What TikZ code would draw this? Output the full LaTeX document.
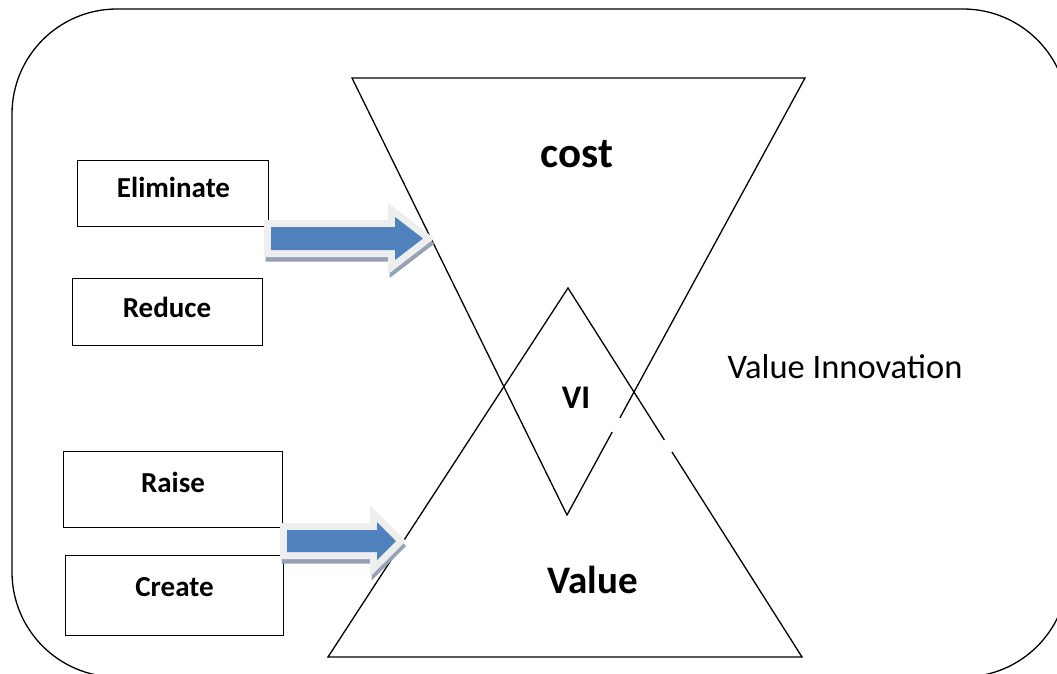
\documentclass[tikz,border=0pt]{standalone}
\usepackage{fontspec}
\setmainfont{Carlito}
\usetikzlibrary{calc}
\definecolor{arrblue}{HTML}{4F81BD}
\definecolor{arrrim}{HTML}{EEEEEE}
\definecolor{arrshadow}{HTML}{95A2B6}
\tikzset{
  frame/.style={draw=black, line width=1.3pt, rounded corners=105pt},
  tri/.style={draw=black, line width=1.3pt, line join=miter},
  boxnode/.style={draw=black, line width=1.4pt, inner sep=0pt, anchor=north west},
  lbl/.style={font=\bfseries\fontsize{29}{29}\selectfont, inner sep=0pt, anchor=base},
  bigl/.style={font=\bfseries\fontsize{#1}{#1}\selectfont, inner sep=0pt, anchor=base},
  arrshad/.style={fill=arrshadow, draw=arrshadow, line width=13pt, line join=miter},
  arrrimst/.style={fill=arrrim, draw=arrrim, line width=14pt, line join=miter},
  arrfill/.style={fill=arrblue},
  gap/.style={draw=white, line width=4pt}
}
\begin{document}
\begin{tikzpicture}[x=1pt,y=-1pt]
\useasboundingbox (0,0) rectangle (1057,673);
% outer frame
\draw[frame] (12,9) rectangle (1068,677);
% triangles
\coordinate (cL) at (352,78);
\coordinate (cR) at (805,78);
\coordinate (cB) at (567,515);
\coordinate (vA) at (568,288);
\coordinate (vL) at (328,657);
\coordinate (vR) at (802,657);
\draw[tri] (cL) -- (cR) -- (cB) -- cycle;
\draw[tri] (vA) -- (vR) -- (vL) -- cycle;
% white gaps
\draw[gap] ($(cR)!0.778!(cB)$) -- ($(cR)!0.810!(cB)$);
\draw[gap] ($(vA)!0.412!(vR)$) -- ($(vA)!0.444!(vR)$);
% boxes
\node[boxnode, minimum width=191pt, minimum height=66pt] (elim) at (77,160) {};
\node[boxnode, minimum width=190pt, minimum height=67pt] (redu) at (72,278) {};
\node[boxnode, minimum width=219pt, minimum height=76pt] (rais) at (63,451) {};
\node[boxnode, minimum width=218pt, minimum height=80pt] (crea) at (65,555) {};
% arrows
\def\uparr{(271,227) -- (395,227) -- (395,217) -- (423,238.5) -- (395,260) -- (395,250) -- (271,250) -- cycle}
\def\loarr{(287,530) -- (377,530) -- (377,522) -- (396,541) -- (377,560) -- (377,552) -- (287,552) -- cycle}
\path[arrshad, shift={(1,5)}] \uparr;
\path[arrrimst] \uparr;
\path[arrfill] \uparr;
\path[arrshad, shift={(1,5)}] \loarr;
\path[arrrimst] \loarr;
\path[arrfill] \loarr;
% labels
\node[lbl] (telim) at (173.5,197) {Eliminate};
\node[lbl] (tredu) at (167,317) {Reduce};
\node[lbl] (trais) at (173,492) {Raise};
\node[lbl] (tcrea) at (174.5,596) {Create};
\node[bigl=43] (tcost) at (577,167) {cost};
\node[bigl=33] (tvi) at (576,408) {VI};
\node[bigl=39] (tval) at (592.5,593) {Value};
\node[font=\fontsize{34.5}{34.5}\selectfont, inner sep=0pt, anchor=base] (tvin) at (845,378) {Value Innovation};
\end{tikzpicture}
\end{document}
